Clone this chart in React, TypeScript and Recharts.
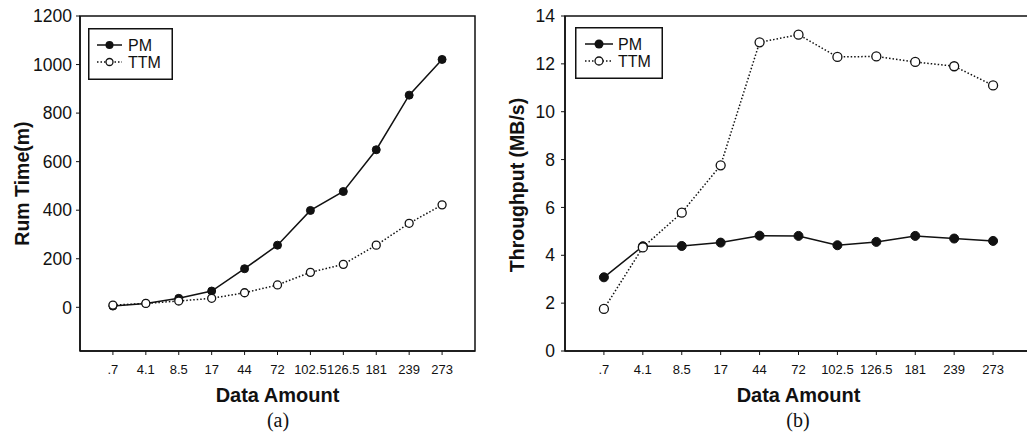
import React from 'react'
import {
  LineChart,
  Line,
  XAxis,
  YAxis,
  ReferenceArea
} from 'recharts'

const categories = ['.7', '4.1', '8.5', '17', '44', '72', '102.5', '126.5', '181', '239', '273']
const pmRunTime = [5, 16, 37, 67, 159, 256, 399, 477, 649, 874, 1021]
const ttmRunTime = [9, 16, 26, 37, 60, 92, 144, 177, 256, 346, 422]
const pmThroughput = [3.08, 4.38, 4.39, 4.53, 4.82, 4.81, 4.42, 4.56, 4.81, 4.7, 4.6]
const ttmThroughput = [1.76, 4.33, 5.78, 7.76, 12.9, 13.22, 12.29, 12.31, 12.08, 11.9, 11.1]
const runTimeTicks = [0, 200, 400, 600, 800, 1000, 1200]
const throughputTicks = [0, 2, 4, 6, 8, 10, 12, 14]
const xTicks = categories.map((_, i) => i + 1)

const runTimeData = categories.map((name, i) => ({
  idx: i + 1,
  name,
  pm: pmRunTime[i],
  ttm: ttmRunTime[i]
}))

const throughputData = categories.map((name, i) => ({
  idx: i + 1,
  name,
  pm: pmThroughput[i],
  ttm: ttmThroughput[i]
}))

const SANS = 'Liberation Sans, Arial, sans-serif'
const SERIF = 'Liberation Serif, Times New Roman, serif'
const INK = '#111'

function LegendBox({ width, lineX1, lineX2, textX, r }: { width: number; lineX1: number; lineX2: number; textX: number; r: number }) {
  const mx = (lineX1 + lineX2) / 2
  return (
    <svg width={width} height={52} style={{ display: 'block' }}>
      <rect x={0.75} y={0.75} width={width - 1.5} height={50.5} fill="#fff" stroke={INK} strokeWidth={1.5} />
      <line x1={lineX1} x2={lineX2} y1={17} y2={17} stroke={INK} strokeWidth={1.5} />
      <circle cx={mx} cy={17} r={r} fill={INK} />
      <text x={textX} y={22.5} fontFamily={SANS} fontSize={16} fill={INK}>PM</text>
      <line x1={lineX1} x2={lineX2} y1={34} y2={34} stroke={INK} strokeWidth={1.5} strokeDasharray="1.5 2" />
      <circle cx={mx} cy={34} r={r - 0.5} fill="#fff" stroke={INK} strokeWidth={1.3} />
      <text x={textX} y={39.5} fontFamily={SANS} fontSize={16} fill={INK}>TTM</text>
    </svg>
  )
}

function xTitle(text: string) {
  return (props: any) => {
    const vb = props.viewBox || {}
    const cx = vb.x + vb.width / 2
    return (
      <text x={cx} y={vb.y + 51} textAnchor="middle" fontFamily={SANS} fontWeight="bold" fontSize={20} fill={INK}>
        {text}
      </text>
    )
  }
}

function yTitle(text: string, cx: number, cy: number) {
  return () => (
    <text
      x={cx}
      y={cy}
      transform={`rotate(-90 ${cx} ${cy})`}
      textAnchor="middle"
      dominantBaseline="central"
      fontFamily={SANS}
      fontWeight="bold"
      fontSize={19.5}
      fill={INK}
    >
      {text}
    </text>
  )
}

const axisLine = { stroke: INK, strokeWidth: 1.5 }
const yTick = { fill: INK, fontSize: 17.5, fontFamily: SANS }
const xTick = { fill: INK, fontSize: 13, fontFamily: SANS }
const captionStyle: React.CSSProperties = {
  position: 'absolute', top: 408, width: 40, textAlign: 'center',
  fontFamily: SERIF, fontSize: 20, color: INK, lineHeight: '24px'
}

export default function App() {
  return (
    <div style={{ position: 'fixed', left: 0, top: 0, width: 1027, height: 440, overflow: 'hidden', background: '#fff' }}>
      <div style={{ position: 'absolute', left: 0, top: 0 }}>
        <LineChart width={480} height={440} data={runTimeData} margin={{ top: 16, right: 5, left: 0, bottom: 59 }}>
          <ReferenceArea x1={0} x2={12} y1={-180} y2={1200} fill="none" stroke={INK} strokeWidth={1.5} />
          <XAxis
            dataKey="idx"
            type="number"
            domain={[0, 12]}
            ticks={xTicks}
            tickFormatter={(v: number) => categories[v - 1]}
            height={30}
            axisLine={axisLine}
            tickLine={{ stroke: INK }}
            tickSize={4}
            tickMargin={10}
            tick={xTick}
            interval={0}
            label={{ content: xTitle('Data Amount') }}
          />
          <YAxis
            domain={[-180, 1200]}
            ticks={runTimeTicks}
            width={80}
            axisLine={axisLine}
            tickLine={{ stroke: INK }}
            tickSize={4}
            tickMargin={4}
            tick={yTick}
            interval={0}
            label={{ content: yTitle('Rum Time(m)', 22, 183.5) }}
          />
          <Line dataKey="pm" name="PM" stroke={INK} strokeWidth={1.5} isAnimationActive={false}
            dot={{ r: 4, fill: INK, stroke: INK, strokeWidth: 1 }} />
          <Line dataKey="ttm" name="TTM" stroke={INK} strokeWidth={1.5} strokeDasharray="1.5 2" isAnimationActive={false}
            dot={{ r: 4, fill: '#fff', stroke: INK, strokeWidth: 1.3, strokeDasharray: '' }} />
        </LineChart>
        <div style={{ position: 'absolute', left: 88, top: 28 }}>
          <LegendBox width={85} lineX1={9} lineX2={34} textX={40} r={4} />
        </div>
      </div>
      <div style={{ ...captionStyle, left: 258 }}>(a)</div>

      <div style={{ position: 'absolute', left: 485, top: 0 }}>
        <LineChart width={552} height={440} data={throughputData} margin={{ top: 16, right: 5, left: 0, bottom: 59 }}>
          <ReferenceArea x1={0} x2={12} y1={0} y2={14} fill="none" stroke={INK} strokeWidth={1.5} />
          <XAxis
            dataKey="idx"
            type="number"
            domain={[0, 12]}
            ticks={xTicks}
            tickFormatter={(v: number) => categories[v - 1]}
            height={30}
            axisLine={axisLine}
            tickLine={{ stroke: INK }}
            tickSize={4}
            tickMargin={10}
            tick={xTick}
            interval={0}
            label={{ content: xTitle('Data Amount') }}
          />
          <YAxis
            domain={[0, 14]}
            ticks={throughputTicks}
            width={80}
            axisLine={axisLine}
            tickLine={{ stroke: INK }}
            tickSize={4}
            tickMargin={6}
            tick={yTick}
            interval={0}
            label={{ content: yTitle('Throughput (MB/s)', 32, 185) }}
          />
          <Line dataKey="pm" name="PM" stroke={INK} strokeWidth={1.5} isAnimationActive={false}
            dot={{ r: 4.5, fill: INK, stroke: INK, strokeWidth: 1 }} />
          <Line dataKey="ttm" name="TTM" stroke={INK} strokeWidth={1.5} strokeDasharray="1.5 2" isAnimationActive={false}
            dot={{ r: 4.5, fill: '#fff', stroke: INK, strokeWidth: 1.3, strokeDasharray: '' }} />
        </LineChart>
        <div style={{ position: 'absolute', left: 90, top: 27 }}>
          <LegendBox width={88} lineX1={10} lineX2={38} textX={43} r={4.5} />
        </div>
      </div>
      <div style={{ ...captionStyle, left: 778 }}>(b)</div>
    </div>
  )
}
